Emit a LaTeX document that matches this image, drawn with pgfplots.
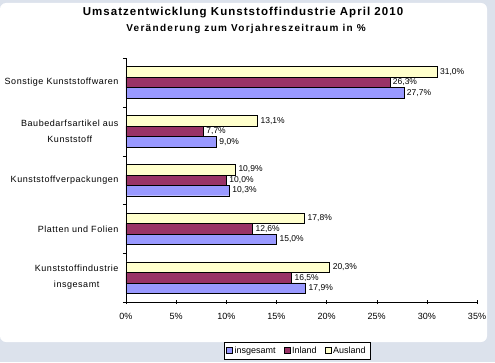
\documentclass[border=0pt]{standalone}
\usepackage{pgfplots}
\pgfplotsset{compat=1.18}
\usepackage{fontspec}
\setmainfont{Liberation Sans}
\definecolor{cIns}{HTML}{9999FF}
\definecolor{cInl}{HTML}{993366}
\definecolor{cAus}{HTML}{FFFFCC}
\definecolor{bgout}{HTML}{DCE2EC}
\begin{document}
\begin{tikzpicture}[x=1pt,y=1pt]
\fill[bgout] (0,0) rectangle (495,362);
\fill[white,rounded corners=6pt] (0,20) rectangle (487,359);
\node[font=\fontsize{11.5}{13}\selectfont\bfseries\addfontfeature{LetterSpace=9}] at (243,349) {Umsatzentwicklung Kunststoffindustrie April 2010};
\node[font=\fontsize{10}{12}\selectfont\bfseries\addfontfeature{LetterSpace=13}] at (246,333) {Veränderung zum Vorjahreszeitraum in \%};
\begin{axis}[
  at={(126pt,60pt)}, anchor=south west,
  scale only axis, width=351pt, height=244pt,
  xbar, bar width=0.215,
  xmin=0, xmax=35, ymin=-0.5, ymax=4.5,
  axis x line*=bottom, axis y line*=left,
  axis line style={-},
  xtick={0,5,...,35},
  xticklabel={\pgfmathprintnumber{\tick}\%},
  xticklabel style={yshift=-6pt},
  x tick style={black}, tick align=center,
  major tick length=4pt,
  ytick={0,1,2,3,4},
  yticklabels={{Kunststoffindustrie\\insgesamt},{Platten und Folien},{Kunststoffverpackungen},{Baubedarfsartikel aus\\Kunststoff},{Sonstige Kunststoffwaren}},
  yticklabel style={align=center, font=\fontsize{9}{16}\selectfont\addfontfeature{LetterSpace=6}, xshift=-2pt},
  y tick style={draw=none},
  extra y ticks={-0.5,0.5,1.5,2.5,3.5,4.5},
  extra y tick labels={},
  extra y tick style={y tick style={draw=black}, tick align=outside, major tick length=3pt},
  tick label style={font=\fontsize{9}{11}\selectfont},
  /pgf/number format/assume math mode=true,
  nodes near coords={\pgfmathprintnumber[fixed,fixed zerofill,precision=1,use comma]{\pgfplotspointmeta}\%},
  nodes near coords align={horizontal},
  every node near coord/.append style={font=\fontsize{8.5}{10}\selectfont, black, inner sep=3pt},
  clip=false,
  legend style={at={(0.487,-0.199)}, anchor=center, legend columns=3, draw=black, font=\fontsize{9}{11}\selectfont, inner sep=2.5pt, /tikz/every even column/.append style={column sep=6pt}},
  legend image code/.code={\draw[#1,draw=black] (0pt,-3pt) rectangle (6pt,3pt);},
]
\addplot[fill=cIns, draw=black, bar shift=-0.215] coordinates {(17.9,0) (15.0,1) (10.3,2) (9.0,3) (27.7,4)};
\addplot[fill=cInl, draw=black, bar shift=0] coordinates {(16.5,0) (12.6,1) (10.0,2) (7.7,3) (26.3,4)};
\addplot[fill=cAus, draw=black, bar shift=0.215] coordinates {(20.3,0) (17.8,1) (10.9,2) (13.1,3) (31.0,4)};
\legend{insgesamt, Inland, Ausland}
\end{axis}
\pgfresetboundingbox
\useasboundingbox (0,0) rectangle (495,362);
\end{tikzpicture}
\end{document}
